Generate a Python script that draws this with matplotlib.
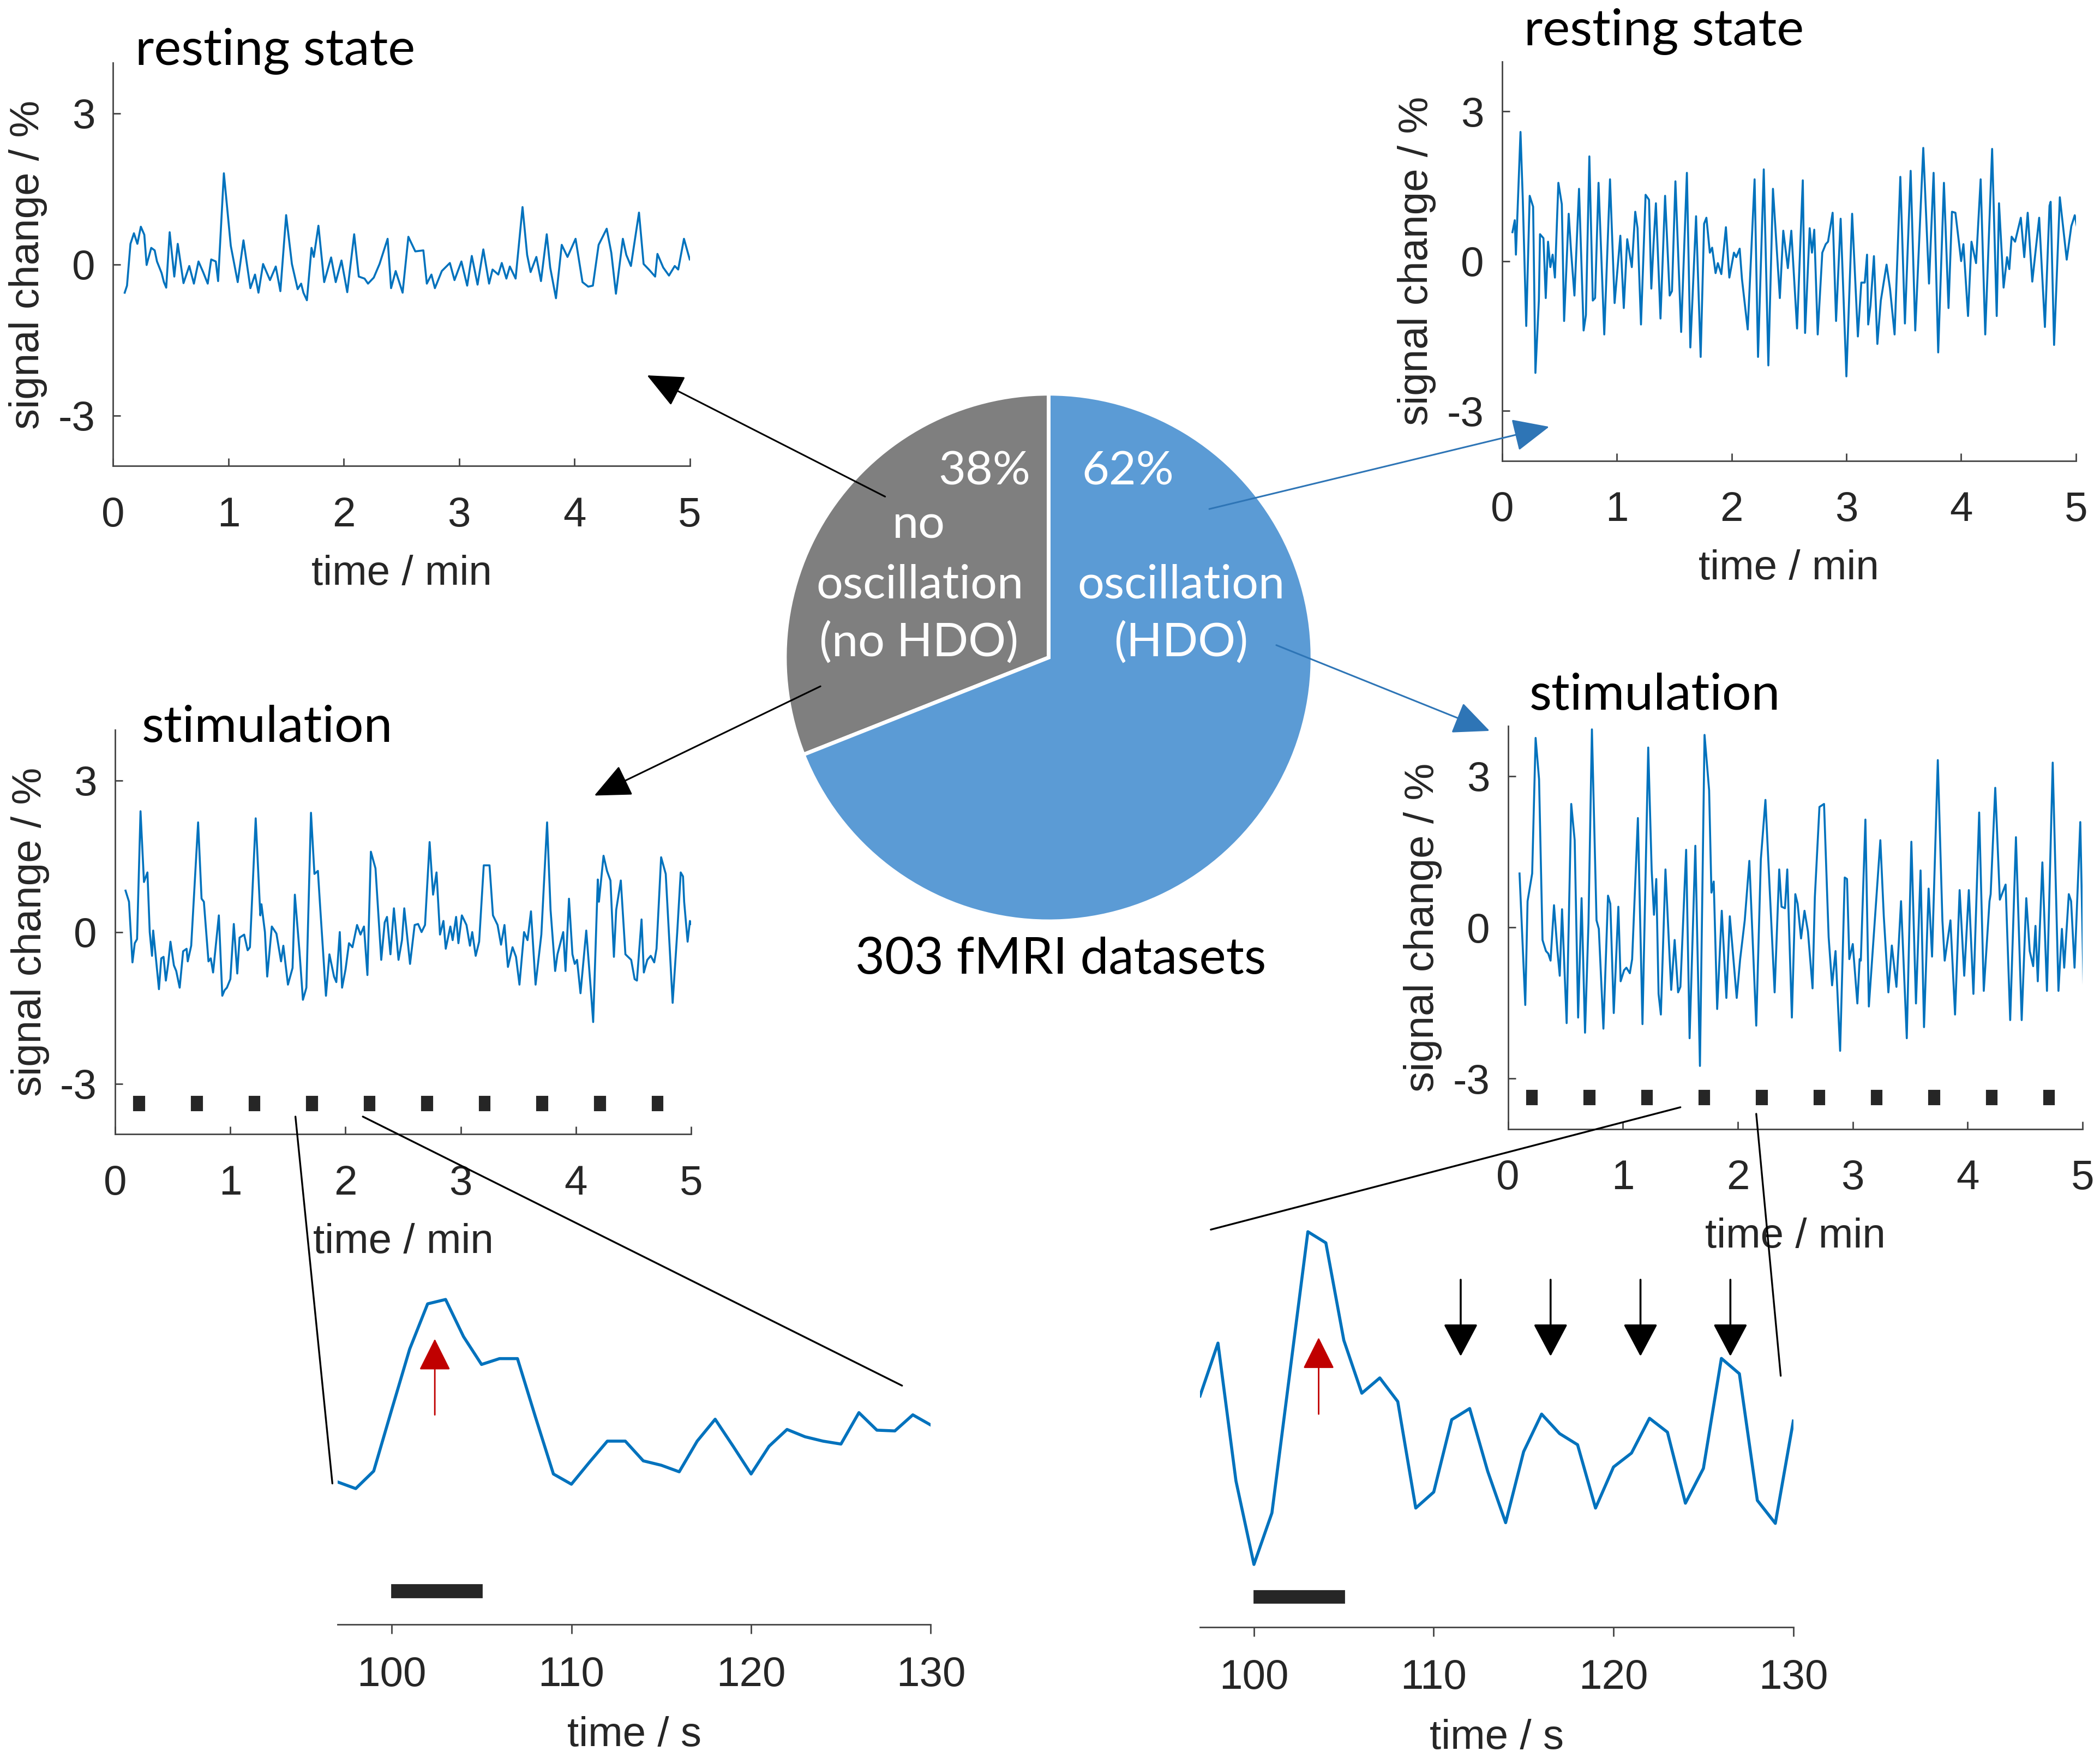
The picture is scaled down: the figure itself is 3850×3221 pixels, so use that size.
import matplotlib.pyplot as plt
from matplotlib.patches import ConnectionPatch

plt.rcParams['font.family'] = 'Liberation Sans'
plt.rcParams['axes.unicode_minus'] = False

# ---- data ----
# resting state, no HDO (time in min, signal change in %)
rest_no_t = [0.10, 0.12, 0.15, 0.18, 0.21, 0.24, 0.27, 0.29, 0.33, 0.36, 0.38, 0.42, 0.44, 0.46, 0.49, 0.53,
             0.56, 0.61, 0.66, 0.70, 0.74, 0.78, 0.82, 0.85, 0.89, 0.91, 0.96, 1.02, 1.08, 1.13, 1.19, 1.23,
             1.26, 1.30, 1.36, 1.41, 1.45, 1.50, 1.55, 1.60, 1.63, 1.65, 1.68, 1.72, 1.74, 1.78, 1.83, 1.89,
             1.93, 1.98, 2.03, 2.09, 2.13, 2.18, 2.21, 2.26, 2.31, 2.38, 2.41, 2.45, 2.51, 2.56, 2.62, 2.69,
             2.72, 2.76, 2.79, 2.85, 2.92, 2.96, 3.02, 3.07, 3.11, 3.16, 3.21, 3.26, 3.29, 3.34, 3.37, 3.41,
             3.44, 3.49, 3.55, 3.59, 3.62, 3.67, 3.71, 3.76, 3.79, 3.84, 3.89, 3.94, 4.01, 4.07, 4.12, 4.16,
             4.21, 4.28, 4.32, 4.36, 4.42, 4.45, 4.49, 4.56, 4.60, 4.65, 4.70, 4.72, 4.77, 4.82, 4.87, 4.90,
             4.95, 5.00]
rest_no_v = [-0.56, -0.42, 0.41, 0.62, 0.41, 0.75, 0.59, -0.01, 0.33, 0.28, 0.06, -0.17, -0.35, -0.46, 0.64, -0.24,
             0.41, -0.37, -0.03, -0.38, 0.06, -0.15, -0.38, 0.10, 0.06, -0.33, 1.81, 0.37, -0.35, 0.48, -0.47, -0.20,
             -0.56, 0.01, -0.31, -0.04, -0.53, 0.98, 0.01, -0.49, -0.38, -0.56, -0.71, 0.33, 0.15, 0.77, -0.35, 0.14,
             -0.35, 0.08, -0.55, 0.60, -0.24, -0.28, -0.38, -0.26, 0.01, 0.51, -0.47, -0.13, -0.56, 0.55, 0.26, 0.28,
             -0.38, -0.20, -0.47, -0.13, 0.03, -0.31, 0.06, -0.42, 0.17, -0.40, 0.30, -0.38, -0.10, -0.20, 0.03, -0.28,
             -0.04, -0.28, 1.14, 0.19, -0.15, 0.15, -0.33, 0.60, -0.06, -0.67, 0.39, 0.15, 0.51, -0.35, -0.44, -0.42,
             0.39, 0.71, 0.23, -0.58, 0.51, 0.19, -0.03, 1.03, 0.01, -0.11, -0.24, 0.21, -0.06, -0.22, -0.03, -0.10,
             0.51, 0.10]

# resting state, HDO
rest_hdo_t = [0.09, 0.11, 0.12, 0.16, 0.18, 0.21, 0.24, 0.27, 0.29, 0.32, 0.33, 0.36, 0.38, 0.40, 0.42, 0.44,
              0.46, 0.49, 0.52, 0.54, 0.58, 0.60, 0.63, 0.67, 0.71, 0.73, 0.76, 0.79, 0.81, 0.84, 0.89, 0.94,
              0.98, 1.03, 1.06, 1.09, 1.13, 1.16, 1.18, 1.21, 1.25, 1.28, 1.30, 1.32, 1.34, 1.38, 1.42, 1.46,
              1.48, 1.51, 1.56, 1.61, 1.64, 1.69, 1.73, 1.76, 1.78, 1.81, 1.83, 1.86, 1.88, 1.91, 1.95, 1.98,
              2.02, 2.04, 2.07, 2.09, 2.14, 2.20, 2.23, 2.28, 2.32, 2.36, 2.42, 2.45, 2.49, 2.52, 2.57, 2.62,
              2.64, 2.68, 2.70, 2.72, 2.75, 2.79, 2.82, 2.84, 2.88, 2.91, 2.95, 3.00, 3.05, 3.10, 3.13, 3.16,
              3.18, 3.19, 3.21, 3.24, 3.27, 3.30, 3.35, 3.38, 3.42, 3.47, 3.51, 3.56, 3.60, 3.67, 3.72, 3.76,
              3.80, 3.85, 3.89, 3.92, 3.95, 4.00, 4.02, 4.06, 4.09, 4.13, 4.17, 4.21, 4.27, 4.31, 4.33, 4.37,
              4.40, 4.42, 4.44, 4.47, 4.52, 4.55, 4.58, 4.62, 4.68, 4.73, 4.77, 4.78, 4.81, 4.86, 4.92, 4.96,
              4.99, 5.01]
rest_hdo_v = [0.58, 0.82, 0.13, 2.59, 1.23, -1.30, 1.31, 1.09, -2.24, -0.79, 0.54, 0.46, -0.74, 0.39, -0.12, 0.13,
              -0.33, 1.57, 1.14, -1.20, 0.95, 0.22, -0.69, 1.45, -1.39, -1.08, 2.10, -0.79, -0.74, 1.57, -1.47, 1.64,
              -0.84, 0.51, -0.94, 0.44, -0.12, 0.99, 0.66, -1.27, 1.33, 1.23, -0.55, 0.37, 1.16, -1.15, 1.31, -0.69,
              -0.60, 1.60, -1.42, 1.77, -1.73, 0.90, -1.92, 0.75, 0.87, 0.17, 0.27, -0.24, -0.04, -0.26, 0.68, -0.33,
              0.17, 0.08, 0.25, -0.36, -1.37, 1.64, -1.92, 1.84, -2.09, 1.45, -0.74, 0.61, -0.14, 0.61, -1.35, 1.62,
              -1.44, 0.66, 0.17, 0.63, -1.47, 0.17, 0.34, 0.39, 0.97, -1.20, 0.85, -2.31, 0.95, -1.51, -0.43, -0.43,
              0.13, -1.27, -0.89, 0.10, -1.66, -0.79, -0.07, -0.55, -1.47, 1.69, -1.25, 1.81, -1.39, 2.27, -0.45, 1.77,
              -1.83, 1.57, -0.94, 0.99, 0.97, 0.00, 0.34, -1.10, 0.39, -0.04, 1.64, -1.47, 2.25, -1.10, 1.16, -0.53,
              0.08, -0.16, 0.49, 0.39, 0.87, 0.08, 0.97, -0.41, 0.87, -1.32, 1.11, 1.19, -1.68, 1.28, 0.03, 0.70,
              0.92, 0.68]

# stimulation, no HDO
stim_no_t = [0.09, 0.12, 0.15, 0.17, 0.19, 0.22, 0.25, 0.28, 0.30, 0.32, 0.33, 0.36, 0.38, 0.40, 0.42, 0.44,
             0.46, 0.48, 0.51, 0.53, 0.56, 0.59, 0.62, 0.63, 0.66, 0.72, 0.75, 0.77, 0.81, 0.83, 0.85, 0.90,
             0.93, 0.95, 0.97, 1.00, 1.03, 1.06, 1.08, 1.12, 1.15, 1.17, 1.22, 1.26, 1.27, 1.30, 1.32, 1.36,
             1.40, 1.44, 1.46, 1.50, 1.54, 1.56, 1.60, 1.63, 1.66, 1.70, 1.73, 1.76, 1.78, 1.83, 1.86, 1.90,
             1.92, 1.95, 1.97, 2.00, 2.03, 2.06, 2.10, 2.13, 2.16, 2.19, 2.22, 2.26, 2.31, 2.34, 2.36, 2.39,
             2.42, 2.46, 2.49, 2.51, 2.56, 2.60, 2.63, 2.66, 2.69, 2.73, 2.76, 2.79, 2.82, 2.85, 2.87, 2.91,
             2.93, 2.96, 2.98, 3.01, 3.05, 3.08, 3.10, 3.13, 3.16, 3.20, 3.25, 3.28, 3.32, 3.35, 3.38, 3.41,
             3.45, 3.48, 3.51, 3.55, 3.58, 3.61, 3.65, 3.70, 3.75, 3.78, 3.82, 3.84, 3.89, 3.91, 3.94, 3.97,
             3.99, 4.01, 4.04, 4.09, 4.13, 4.15, 4.19, 4.20, 4.24, 4.27, 4.30, 4.33, 4.35, 4.39, 4.43, 4.48,
             4.51, 4.53, 4.57, 4.59, 4.62, 4.65, 4.68, 4.70, 4.74, 4.78, 4.84, 4.88, 4.91, 4.93, 4.94, 4.97,
             4.99, 5.00]
stim_no_v = [0.82, 0.60, -0.60, -0.22, -0.14, 2.39, 0.99, 1.18, 0.00, -0.47, 0.03, -0.66, -1.13, -0.52, -0.49, -0.96,
             -0.63, -0.19, -0.66, -0.77, -1.10, -0.38, -0.33, -0.58, -0.27, 2.17, 0.66, 0.60, -0.58, -0.52, -0.80, 0.33,
             -1.26, -1.15, -1.10, -0.93, 0.16, -0.82, -0.11, -0.05, -0.36, -0.30, 2.25, 0.33, 0.55, 0.00, -0.88, 0.11,
             -0.03, -0.58, -0.27, -1.04, -0.71, 0.74, -0.38, -1.34, -1.10, 2.36, 1.15, 1.21, 0.49, -1.26, -0.44, -0.88,
             -0.99, 0.00, -1.10, -0.74, -0.22, -0.30, 0.14, -0.05, 0.11, -0.85, 1.59, 1.26, -0.55, 0.19, 0.30, -0.44,
             0.47, -0.55, -0.16, 0.47, -0.63, 0.14, 0.16, 0.00, 0.14, 1.78, 0.74, 1.18, -0.05, 0.22, -0.33, 0.11,
             -0.16, 0.30, -0.22, 0.33, 0.14, -0.27, 0.00, -0.47, -0.19, 1.32, 1.32, 0.33, 0.14, -0.25, 0.14, -0.69,
             -0.30, -0.49, -1.04, 0.00, -0.16, 0.41, -1.04, -0.05, 2.17, 0.44, -0.77, -0.44, 0.00, -0.77, 0.66, -0.44,
             -0.63, -0.55, -1.21, 0.03, -1.15, -1.78, 1.04, 0.60, 1.51, 1.21, 1.02, -0.49, 0.44, 1.02, -0.44, -0.55,
             -0.93, -0.96, 0.25, -0.80, -0.55, -0.47, -0.60, -0.33, 1.48, 1.15, -1.40, 0.00, 1.18, 1.10, 0.60, -0.19,
             0.22, 0.16]

# stimulation, HDO
stim_hdo_t = [0.10, 0.15, 0.17, 0.21, 0.24, 0.27, 0.30, 0.33, 0.35, 0.37, 0.40, 0.43, 0.45, 0.47, 0.51, 0.55,
              0.58, 0.61, 0.64, 0.67, 0.70, 0.73, 0.77, 0.79, 0.83, 0.87, 0.89, 0.92, 0.96, 0.98, 1.01, 1.03,
              1.06, 1.08, 1.13, 1.17, 1.22, 1.25, 1.27, 1.29, 1.31, 1.33, 1.37, 1.40, 1.42, 1.45, 1.48, 1.50,
              1.55, 1.58, 1.61, 1.63, 1.67, 1.71, 1.75, 1.77, 1.79, 1.82, 1.86, 1.90, 1.93, 1.99, 2.02, 2.06,
              2.10, 2.16, 2.20, 2.24, 2.32, 2.36, 2.38, 2.41, 2.43, 2.47, 2.50, 2.52, 2.55, 2.58, 2.61, 2.65,
              2.67, 2.71, 2.75, 2.79, 2.82, 2.85, 2.89, 2.93, 2.95, 2.97, 3.00, 3.04, 3.06, 3.07, 3.11, 3.14,
              3.24, 3.27, 3.31, 3.34, 3.38, 3.42, 3.47, 3.51, 3.55, 3.59, 3.62, 3.66, 3.69, 3.74, 3.78, 3.80,
              3.85, 3.89, 3.93, 3.97, 4.01, 4.05, 4.10, 4.14, 4.19, 4.20, 4.24, 4.28, 4.33, 4.37, 4.42, 4.47,
              4.51, 4.54, 4.57, 4.59, 4.61, 4.65, 4.69, 4.74, 4.79, 4.82, 4.84, 4.88, 4.90, 4.93, 4.98, 5.01]
stim_hdo_v = [1.07, -1.54, 0.52, 1.07, 3.76, 2.94, -0.25, -0.47, -0.52, -0.66, 0.44, -0.47, -0.96, 0.36, -1.90, 2.45,
              1.73, -1.79, 0.58, -2.09, 0.08, 3.93, 0.14, -0.03, -2.01, 0.63, 0.47, -1.70, 0.41, -1.07, -0.85, -0.80,
              -0.91, -0.63, 2.17, -1.92, 3.57, 1.13, 0.25, 0.96, -1.32, -1.73, 1.15, -0.30, -1.24, -0.25, -1.29, -1.18,
              1.54, -2.20, 0.08, 1.62, -2.75, 3.82, 2.72, 0.69, 0.91, -1.62, 0.33, -1.40, 0.22, -1.40, -0.63, 0.14,
              1.32, -1.95, 1.35, 2.53, -1.29, 1.15, 0.41, 0.38, 1.15, -1.79, 0.66, 0.47, -0.22, 0.33, -0.08, -1.21,
              0.60, 2.39, 2.45, -0.19, -1.15, -0.47, -2.45, 0.99, 0.96, -0.63, -0.33, -1.51, -0.63, -0.66, 2.14, -1.57,
              1.73, 0.22, -1.29, -0.36, -1.18, 0.52, -2.20, 1.70, -1.51, 1.13, -1.98, 0.77, -0.58, 3.32, 0.14, -0.66,
              0.14, -1.73, 0.74, -0.96, 0.74, -1.32, 2.28, -1.26, 0.52, 0.66, 2.77, 0.55, 0.85, -1.84, 1.79, -1.84,
              0.58, -0.47, -0.77, 0.03, -1.07, 1.29, -1.26, 3.27, -1.26, -0.03, -0.80, 0.66, 0.52, -0.80, 2.09, -1.35]

# zoomed segments, 1 s sampling (arbitrary units)
zoom_t = list(range(97, 131))
zoom_no_v = [-0.49, -0.58, -0.34, 0.50, 1.33, 1.95, 2.01, 1.50, 1.12, 1.20, 1.20, 0.40, -0.38, -0.52, -0.22, 0.07,
             0.07, -0.20, -0.26, -0.35, 0.07, 0.37, 0.00, -0.38, 0.00, 0.23, 0.13, 0.07, 0.03, 0.46, 0.22, 0.21,
             0.43, 0.29]
zoom_hdo_v = [0.38, 1.14, -0.84, -2.04, -1.30, 0.72, 2.74, 2.58, 1.18, 0.42, 0.64, 0.30, -1.23, -1.00, 0.04, 0.20,
              -0.70, -1.44, -0.42, 0.12, -0.16, -0.32, -1.23, -0.64, -0.44, 0.06, -0.14, -1.16, -0.66, 0.92, 0.70,
              -1.12, -1.45, 0.02]

# stimulation blocks (s)
stim_onsets = [10, 40, 70, 100, 130, 160, 190, 220, 250, 280]
stim_dur = 5
zoom_stim_onset = 100
hdo_arrow_t = [111.5, 116.5, 121.5, 126.5]

# pie: drawn wedge angles as measured, labels as printed
pie_shares = [31, 69]
pie_pct = ['38%', '62%']

# ---- style ----
trace_col = '#0072BD'
ink = '#262626'
pie_cols = ['#7F7F7F', '#5B9BD5']
arrow_blue = '#2E75B6'
red = '#C00000'
title_font = 'Lato'
fs_ax = 55

W, H = 1568.0, 1312.0  # layout grid


def rect(x0, y0, x1, y1):
    return [x0 / W, 1 - y1 / H, (x1 - x0) / W, (y1 - y0) / H]


fig = plt.figure(figsize=(38.5, 32.21), dpi=100)


def trace_axes(pos, t, v, stim_y=None):
    ax = fig.add_axes(pos)
    ax.patch.set_alpha(0)
    ax.plot(t, v, color=trace_col, lw=2.6)
    if stim_y is not None:
        centers = [(s + stim_dur / 2) / 60 for s in stim_onsets]
        ax.bar(centers, 0.26, width=stim_dur / 60, bottom=stim_y - 0.13,
               color=ink, edgecolor=ink, linewidth=3)
    ax.set_xlim(0, 5)
    ax.set_ylim(-4, 4)
    ax.set_xticks(range(6))
    ax.set_yticks([-3, 0, 3])
    for s in ['top', 'right']:
        ax.spines[s].set_visible(False)
    for s in ['left', 'bottom']:
        ax.spines[s].set_color('#444444')
        ax.spines[s].set_linewidth(2)
    ax.tick_params(direction='in', length=10, width=2, color='#444444',
                   labelsize=fs_ax, labelcolor=ink)
    ax.tick_params(axis='x', pad=40)
    ax.tick_params(axis='y', pad=24)
    ax.set_xlabel('time / min', fontsize=fs_ax, color=ink, labelpad=26)
    ax.set_ylabel('signal change / %', fontsize=fs_ax, color=ink, labelpad=14)
    return ax


def zoom_axes(pos, v, ylim, bar_y):
    ax = fig.add_axes(pos)
    ax.patch.set_alpha(0)
    ax.plot(zoom_t, v, color=trace_col, lw=4)
    ax.bar(zoom_stim_onset + stim_dur / 2, 0.17, width=stim_dur, bottom=bar_y - 0.085,
           color=ink, edgecolor=ink, linewidth=2)
    ax.set_xlim(97, 130)
    ax.set_ylim(*ylim)
    for s in ['top', 'right', 'left']:
        ax.spines[s].set_visible(False)
    ax.spines['bottom'].set_color('#444444')
    ax.spines['bottom'].set_linewidth(2)
    ax.set_yticks([])
    ax.set_xticks([100, 110, 120, 130])
    ax.tick_params(axis='x', direction='out', length=12, width=2, color='#444444',
                   labelsize=fs_ax, labelcolor=ink, pad=30)
    ax.set_xlabel('time / s', fontsize=fs_ax, color=ink, labelpad=28)
    return ax


ax_tl = trace_axes(rect(84.5, 47, 515, 348), rest_no_t, rest_no_v)
ax_tr = trace_axes(rect(1121.6, 46, 1550, 344), rest_hdo_t, rest_hdo_v)
ax_bl = trace_axes(rect(86, 545, 516, 847), stim_no_t, stim_no_v, stim_y=-3.39)
ax_br = trace_axes(rect(1126, 542, 1555, 843), stim_hdo_t, stim_hdo_v, stim_y=-3.38)

ax_zl = zoom_axes(rect(252.2, 900, 695, 1213), zoom_no_v, (-2.44, 3.30), -1.98)
ax_zr = zoom_axes(rect(896, 900, 1339, 1215), zoom_hdo_v, (-2.94, 3.12), -2.50)

# panel titles
for x, y, s in [(101, 48.6, 'resting state'), (1138, 34, 'resting state'),
                (105.7, 554, 'stimulation'), (1142, 530, 'stimulation')]:
    fig.text(x / W, 1 - y / H, s, family=title_font, fontsize=68, color='black',
             ha='left', va='baseline')

# arrows in the zoomed panels
arrow_kw = dict(shrinkA=0, shrinkB=0)
ax_zl.annotate('', xy=(102.4, 1.47), xytext=(102.4, 0.43),
               arrowprops=dict(arrowstyle='-|>,head_length=1.0,head_width=0.5', mutation_scale=37,
                               color=red, lw=2, **arrow_kw))
ax_zr.annotate('', xy=(103.6, 1.22), xytext=(103.6, 0.12),
               arrowprops=dict(arrowstyle='-|>,head_length=1.0,head_width=0.5', mutation_scale=37,
                               color=red, lw=2, **arrow_kw))
for t in hdo_arrow_t:
    ax_zr.annotate('', xy=(t, 0.95), xytext=(t, 2.05),
                   arrowprops=dict(arrowstyle='-|>,head_length=1.0,head_width=0.53', mutation_scale=38,
                                   color='black', lw=2.6, **arrow_kw))

# pie
ax_p = fig.add_axes(rect(586, 294, 980, 688))
ax_p.pie(pie_shares, colors=pie_cols, startangle=90, counterclock=True,
         wedgeprops=dict(edgecolor='white', linewidth=5))
ax_p.set_xlim(-1, 1)
ax_p.set_ylim(-1, 1)
ax_p.axis('off')

pie_text = [(735, 362, pie_pct[0]), (686, 402, 'no'), (687, 446.5, 'oscillation'), (686, 490, '(no HDO)'),
            (842, 362, pie_pct[1]), (882, 446.5, 'oscillation'), (882, 490, '(HDO)')]
for x, y, s in pie_text:
    fig.text(x / W, 1 - y / H, s, family=title_font, fontsize=62, color='white',
             ha='center', va='baseline')
fig.text(792 / W, 1 - 727 / H, '303 fMRI datasets', family=title_font, fontsize=67,
         color='black', ha='center', va='baseline')

# arrows from pie to panels
head = '-|>,head_length=1.0,head_width=0.45'
links = [((-0.62, 0.61), ax_tl, (4.63, -2.2), 'black'),
         ((-0.865, -0.109), ax_bl, (4.16, 2.70), 'black'),
         ((0.609, 0.563), ax_tr, (0.41, -3.32), arrow_blue),
         ((0.863, 0.047), ax_br, (-0.16, 3.90), arrow_blue)]
for a, axb, b, c in links:
    con = ConnectionPatch(xyA=a, coordsA='data', axesA=ax_p, xyB=b, coordsB='data', axesB=axb,
                          arrowstyle=head, mutation_scale=42, color=c, lw=2.2,
                          shrinkA=0, shrinkB=0)
    con.set_annotation_clip(False)
    fig.add_artist(con)

# zoom connector lines
zoom_links = [(ax_bl, (1.565, -3.65), ax_zl, (96.7, -0.51)),
              (ax_bl, (2.15, -3.65), ax_zl, (128.4, 0.83)),
              (ax_br, (1.50, -3.57), ax_zr, (97.6, 2.77)),
              (ax_br, (2.16, -3.70), ax_zr, (129.3, 0.67))]
for axa, a, axb, b in zoom_links:
    con = ConnectionPatch(xyA=a, coordsA='data', axesA=axa, xyB=b, coordsB='data', axesB=axb,
                          color='black', lw=2.4)
    con.set_annotation_clip(False)
    fig.add_artist(con)

fig.savefig('out.png', dpi=100)
